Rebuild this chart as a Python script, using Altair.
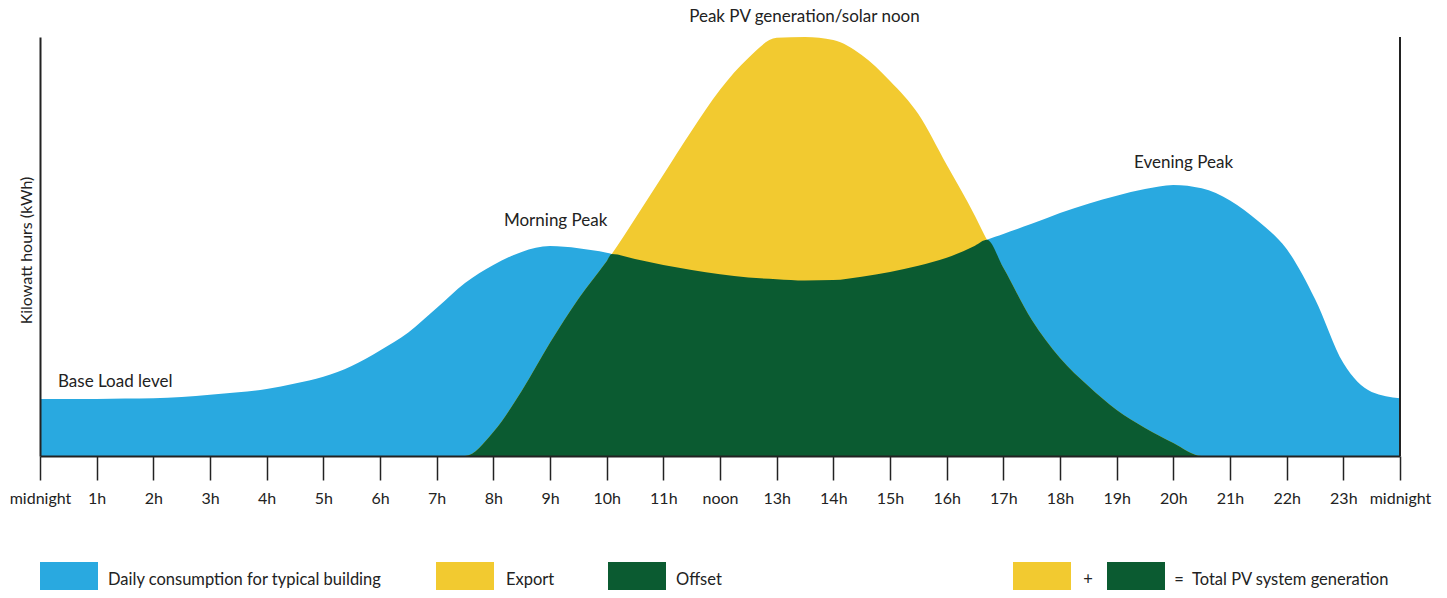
import altair as alt
import pandas as pd

# ---- data ----
hours = [0, 0.5, 1, 1.5, 2, 2.5, 3, 3.5, 4, 4.5,
         5, 5.5, 6, 6.5, 7, 7.5, 8, 8.5, 9, 9.5,
         10, 10.09, 10.5, 11, 11.5, 12, 12.5, 13, 13.5, 14,
         14.5, 15, 15.5, 16, 16.5, 16.71, 17, 17.5, 18, 18.5,
         19, 19.5, 20, 20.5, 21, 21.5, 22, 22.5, 23, 23.5,
         24]

consumption = [13.6, 13.6, 13.6, 13.7, 13.8, 14.1, 14.6, 15.2, 16.0, 17.3,
               18.9, 21.5, 25.2, 29.5, 35.3, 41.3, 45.6, 48.7, 50.1, 49.6,
               48.5, 48.2, 47.0, 45.6, 44.4, 43.4, 42.6, 42.2, 41.9, 42.0,
               42.8, 43.9, 45.4, 47.3, 50.2, 51.6, 53.0, 55.4, 58.0, 60.2,
               62.1, 63.7, 64.7, 63.9, 61.0, 56.0, 49.4, 37.5, 22.2, 15.3,
               13.8]

pv_generation = [0, 0, 0, 0, 0, 0, 0, 0, 0, 0,
                 0, 0, 0, 0, 0, 0, 5.7, 15.5, 27.0, 37.5,
                 46.5, 48.2, 56.6, 67.1, 77.6, 87.4, 95.0, 99.8, 100.0, 99.3,
                 95.7, 89.5, 81.6, 69.5, 57.3, 51.6, 44.9, 32.5, 23.4, 16.7,
                 11.0, 6.7, 3.1, 0, 0, 0, 0, 0, 0, 0,
                 0]

tick_labels = ["midnight", "1h", "2h", "3h", "4h", "5h", "6h", "7h", "8h", "9h",
               "10h", "11h", "noon", "13h", "14h", "15h", "16h", "17h", "18h",
               "19h", "20h", "21h", "22h", "23h", "midnight"]

legend_labels = ["Daily consumption for typical building", "Export", "Offset",
                 "+", "=", "Total PV system generation"]

BLUE = "#29A9E0"
YELLOW = "#F2CA30"
GREEN = "#0B5B31"
INK = "#222222"
FONT = "Lato"

df = pd.DataFrame({"hour": hours, "consumption": consumption, "pv": pv_generation})

label_array = "[" + ",".join("'" + t + "'" for t in tick_labels) + "]"

x_axis = alt.Axis(
    values=list(range(25)),
    labelExpr=label_array + "[round(datum.value)]",
    tickSize=24, tickWidth=1.5, tickColor=INK,
    domainColor=INK, domainWidth=2,
    labelFontSize=16, labelColor=INK, labelPadding=10,
    labelFlush=False, labelOverlap=False,
    grid=False, title=None, zindex=1,
)
x_scale = alt.Scale(domain=[0, 24], nice=False, zero=False)

y_axis = alt.Axis(
    domain=True, ticks=False, labels=False, grid=False,
    domainColor=INK, domainWidth=2,
    title="Kilowatt hours (kWh)", titleFontSize=16,
    titleFontWeight="normal", titleColor=INK, titlePadding=6,
    titleY=213, zindex=1,
)
y_scale = alt.Scale(domain=[0, 100], nice=False, zero=True)

base = alt.Chart(df)

blue = base.mark_area(color=BLUE, interpolate="monotone").encode(
    x=alt.X("hour:Q", scale=x_scale, axis=x_axis),
    y=alt.Y("consumption:Q", scale=y_scale, axis=y_axis),
)

yellow = base.mark_area(color=YELLOW, interpolate="monotone").encode(
    x=alt.X("hour:Q", scale=x_scale, axis=x_axis),
    y=alt.Y("pv:Q", scale=y_scale, axis=y_axis),
)

green = base.transform_calculate(
    offset="min(datum.consumption, datum.pv)"
).mark_area(color=GREEN, interpolate="monotone").encode(
    x=alt.X("hour:Q", scale=x_scale, axis=x_axis),
    y=alt.Y("offset:Q", scale=y_scale, axis=y_axis),
)

one = alt.Data(values=[{}])

right_line = alt.Chart(one).mark_rule(
    color=INK, strokeWidth=2
).encode(x=alt.datum(24))


def note(text, hx, kv, align="center"):
    return alt.Chart(one).mark_text(
        text=text, align=align, baseline="alphabetic",
        fontSize=17, color=INK, font=FONT,
    ).encode(x=alt.datum(hx), y=alt.datum(kv))


notes = [
    note("Peak PV generation/solar noon", 13.49, 103.5),
    note("Morning Peak", 9.10, 54.9),
    note("Evening Peak", 20.18, 68.66),
    note("Base Load level", 0.318, 16.54, align="left"),
]


def swatch(color, x0):
    return alt.Chart(one).mark_rect(color=color).encode(
        x=alt.value(x0), x2=alt.value(x0 + 58),
        y=alt.value(525), y2=alt.value(561),
    )


def ltext(text, x0, align="left"):
    return alt.Chart(one).mark_text(
        text=text, align=align, baseline="middle",
        fontSize=16.5, color=INK, font=FONT,
    ).encode(x=alt.value(x0), y=alt.value(543))


legend = [
    swatch(BLUE, 0), ltext(legend_labels[0], 68),
    swatch(YELLOW, 396), ltext(legend_labels[1], 466),
    swatch(GREEN, 568), ltext(legend_labels[2], 636),
    swatch(YELLOW, 973), ltext(legend_labels[3], 1048, "center"),
    swatch(GREEN, 1067), ltext(legend_labels[4], 1139, "center"),
    ltext(legend_labels[5], 1152),
]

chart = alt.layer(blue, yellow, green, right_line, *notes, *legend).properties(
    width=1360,
    height=419,
    padding={"left": 32, "top": 29, "right": 39, "bottom": 134},
    autosize=alt.AutoSizeParams(type="none"),
).configure(font=FONT).configure_view(stroke=None)

chart.save("out.html", embed_options={"renderer": "svg", "actions": False})
